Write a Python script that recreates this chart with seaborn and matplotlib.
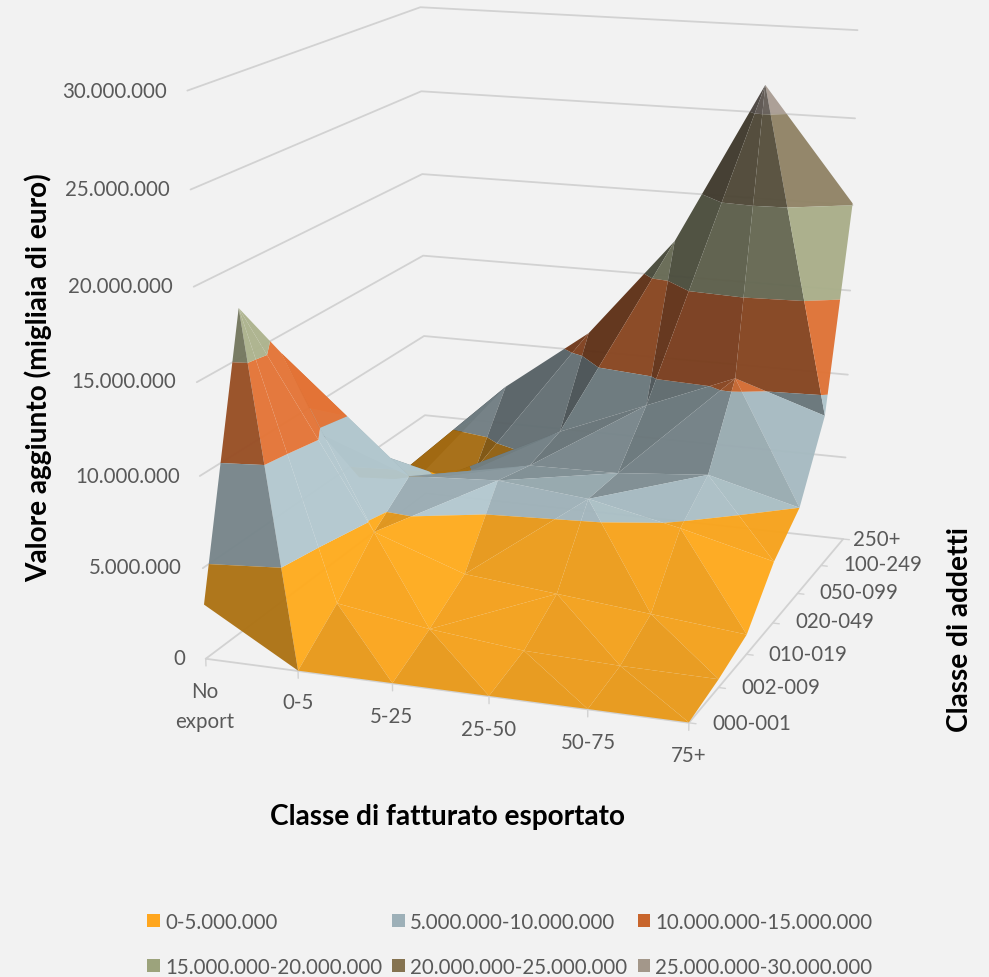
#!/usr/bin/python3
### IMPORTS ###
import numpy as np
import matplotlib
matplotlib.use('Agg')
import matplotlib.pyplot as plt
from matplotlib.patches import Patch
from mpl_toolkits.mplot3d import Axes3D
from mpl_toolkits.mplot3d.art3d import Poly3DCollection
import seaborn as sns

### DATA ###
export_classes = ['No\nexport', '0-5', '5-25', '25-50', '50-75', '75+']
employee_classes = ['000-001', '002-009', '010-019', '020-049', '050-099', '100-249', '250+']
# value added, millions of euro, one row for each employee class
r000_001 = [3.0, 0.02, 0.02, 0.02, 0.02, 0.02]
r002_009 = [17.7, 2.0, 1.2, 0.66, 0.5, 0.45]
r010_019 = [14.0, 4.4, 2.6, 2.1, 1.6, 1.1]
r020_049 = [8.0, 6.1, 6.4, 5.9, 4.8, 3.5]
r050_099 = [4.0, 4.6, 5.8, 5.9, 6.35, 5.0]
r100_249 = [2.4, 3.6, 6.4, 8.5, 10.6, 8.9]
r250_up = [1.5, 7.3, 11.1, 17.1, 26.6, 20.1]
z_ticks = [0, 5, 10, 15, 20, 25, 30]
z_tick_labels = ['0', '5.000.000', '10.000.000', '15.000.000', '20.000.000', '25.000.000', '30.000.000']
band_labels = ['0-5.000.000', '5.000.000-10.000.000', '10.000.000-15.000.000',
               '15.000.000-20.000.000', '20.000.000-25.000.000', '25.000.000-30.000.000']
legend_colors = ['#FFA61E', '#9DB0B8', '#C8652C', '#9CA37C', '#857350', '#A3978A']
surface_colors = ['#FFA81C', '#AFC4CB', '#E07235', '#AAAF8A', '#918465', '#AA9E94']

### CAMERA (fitted on the corners of the chart box) ###
ELEV, AZIM, FOCAL_PX = 15.54, -70.18, 2989.75
CENTER_PX = (544.89, 394.85)
BOX_W, BOX_D, BOX_H = 0.12812, 0.14877, 0.14548
TARGET_X, TARGET_Y = -0.00411, 0.26512
FIG_W, FIG_H = 989, 978

### HELPER FUNCTIONS ###
def px(x, y):
    return x / FIG_W, 1 - y / FIG_H

def clip_polygon(poly, level, keep_above):
    out = []
    for i in range(len(poly)):
        a, b = poly[i], poly[(i + 1) % len(poly)]
        a_in = a[2] >= level if keep_above else a[2] <= level
        b_in = b[2] >= level if keep_above else b[2] <= level
        if a_in:
            out.append(a)
        if a_in != b_in:
            t = (level - a[2]) / (b[2] - a[2])
            out.append(a + t * (b - a))
    return out

def facet_shade(tri):
    scale = np.array([BOX_W / 5, BOX_D / 6, BOX_H / 30])
    p = tri * scale
    n = np.cross(p[1] - p[0], p[2] - p[0])
    n = n / np.linalg.norm(n)
    if n[2] < 0:
        n = -n
    # light comes from the right, facets turned to the front go darker
    side = 0.5 * n[0] if n[0] > 0 else -0.95 * n[0] ** 2
    shade = 0.91 + side - 0.5 * abs(n[1]) ** 6
    # the flat back of the surface is darker unless it faces the light
    depth = min(max(tri[:, 1].mean() - 2.5, 0) * 0.18, 0.25)
    depth *= (1 - np.clip(n[0] * 3, 0, 1)) * np.clip((n[2] - 0.35) / 0.3, 0, 1)
    return np.clip(shade * (1 - depth), 0.25, 1.02)

def surface_triangles(x, y, z):
    tris = []
    for j in range(len(y) - 1):
        for i in range(len(x) - 1):
            p00 = np.array([x[i], y[j], z[j, i]])
            p10 = np.array([x[i + 1], y[j], z[j, i + 1]])
            p01 = np.array([x[i], y[j + 1], z[j + 1, i]])
            p11 = np.array([x[i + 1], y[j + 1], z[j + 1, i + 1]])
            # the cell folds along its higher diagonal
            if p00[2] + p11[2] >= p10[2] + p01[2]:
                tris += [(p00, p10, p11), (p00, p11, p01)]
            else:
                tris += [(p00, p10, p01), (p10, p11, p01)]
    return tris

def band_polygons(tris, palette, alpha=0.96):
    polys, colors = [], []
    for tri in tris:
        shade = facet_shade(np.array(tri))
        for k, col in enumerate(palette):
            poly = clip_polygon(list(tri), 5.0 * k, True)
            if poly:
                poly = clip_polygon(poly, 5.0 * (k + 1), False)
            if len(poly) < 3:
                continue
            polys.append(np.array(poly))
            colors.append((*np.clip(np.array(col) * shade, 0, 1), alpha))
    return polys, colors

### MAIN ###
sns.set_theme(style='white')
plt.rcParams['font.family'] = ['Lato', 'DejaVu Sans']
text_color = '#595959'
grid_color = '#D2D2D2'

fig = plt.figure(figsize=(FIG_W / 100, FIG_H / 100), dpi=100, facecolor='#F2F2F2')
ax_size = 1000
focal = FOCAL_PX * 0.185 / ax_size
ax = fig.add_axes([(CENTER_PX[0] - ax_size * 0.095 / 0.185) / FIG_W,
                   (FIG_H - CENTER_PX[1] - ax_size * 0.095 / 0.185) / FIG_H,
                   ax_size / FIG_W, ax_size / FIG_H], projection='3d')
ax.set_proj_type('persp', focal_length=focal)
ax.view_init(elev=ELEV, azim=AZIM)
ax.set_axis_off()
ax.patch.set_alpha(0)
ax.computed_zorder = False

x = np.arange(len(export_classes), dtype=float)
y = np.arange(len(employee_classes), dtype=float)
z = np.array([r000_001, r002_009, r010_019, r020_049, r050_099, r100_249, r250_up])
x_last, y_last = x[-1], y[-1]

# walls and floor
for tick in z_ticks[1:]:
    ax.plot([0, 0, x_last], [0, y_last, y_last], [tick] * 3, color=grid_color, lw=1.3, zorder=1)
ax.plot([0, x_last, x_last, 0, 0], [0, 0, y_last, y_last, 0], [0] * 5, color=grid_color, lw=1.3, zorder=1)
for xi in x:
    ax.plot([xi, xi], [0, 0], [0, -0.4], color=grid_color, lw=1.0, zorder=1)
for yi in y:
    ax.plot([x_last, x_last + 0.07], [yi, yi], [0, 0], color=grid_color, lw=1.0, zorder=1)

palette = sns.color_palette(surface_colors)
polys, colors = band_polygons(surface_triangles(x, y, z), palette)
surface = Poly3DCollection(polys, facecolors=colors, edgecolors='none', linewidths=0, zorder=5)
ax.add_collection3d(surface, autolim=False)

# limits centred on the camera target
x_mid = TARGET_X / BOX_W * x_last
y_mid = TARGET_Y / BOX_D * y_last
hx, hy, hz = 6.0, 12.0, 35.0
ax.set_xlim(x_mid - hx, x_mid + hx)
ax.set_ylim(y_mid - hy, y_mid + hy)
ax.set_zlim(-hz, hz)
s = 10 * focal
box = np.array([2 * hx * BOX_W / x_last, 2 * hy * BOX_D / y_last, 2 * hz * BOX_H / 30]) * s
ax.set_box_aspect(box, zoom=np.linalg.norm(box) / (1.8294640721620434 * 25 / 24))

# tick labels
z_label_pos = [(185, 659), (182, 568), (180, 477), (176, 382), (173, 287), (170, 190), (167, 92)]
for lab, (tx, ty) in zip(z_tick_labels, z_label_pos):
    fig.text(*px(tx, ty), lab, ha='right', va='center', fontsize=14.8, color=text_color)
x_label_pos = [(205, 707), (298, 703), (392, 717), (489, 730), (588, 743), (689, 756)]
for lab, (tx, ty) in zip(export_classes, x_label_pos):
    fig.text(*px(tx, ty), lab, ha='center', va='center', fontsize=14.8, color=text_color, linespacing=1.6)
y_label_pos = [(712, 724), (741, 688), (768, 655), (795, 622), (819, 593), (843, 565), (853, 540)]
for lab, (tx, ty) in zip(employee_classes, y_label_pos):
    fig.text(*px(tx, ty), lab, ha='left', va='center', fontsize=14.8, color=text_color)

# axis titles
fig.text(*px(448, 817), 'Classe di fatturato esportato', ha='center', va='center',
         fontsize=20.2, fontweight='bold', color='black')
fig.text(*px(38, 378), 'Valore aggiunto (migliaia di euro)', ha='center', va='center', rotation=90,
         fontsize=20.2, fontweight='bold', color='black')
fig.text(*px(960, 630), 'Classe di addetti', ha='center', va='center', rotation=90,
         fontsize=20.2, fontweight='bold', color='black')

handles = [Patch(facecolor=c, edgecolor='none', label=l) for c, l in zip(legend_colors, band_labels)]
# matplotlib fills a legend column by column
order = [0, 3, 1, 4, 2, 5]
fig.legend([handles[i] for i in order], [band_labels[i] for i in order], ncols=3,
           loc='lower left', bbox_to_anchor=px(147, 978), bbox_transform=fig.transFigure,
           frameon=False, fontsize=14.8, labelcolor=text_color, borderpad=0, borderaxespad=0,
           handlelength=0.62, handleheight=0.62, handletextpad=0.25, columnspacing=0.5, labelspacing=1.24)

fig.savefig('out.png', dpi=100, facecolor=fig.get_facecolor())
